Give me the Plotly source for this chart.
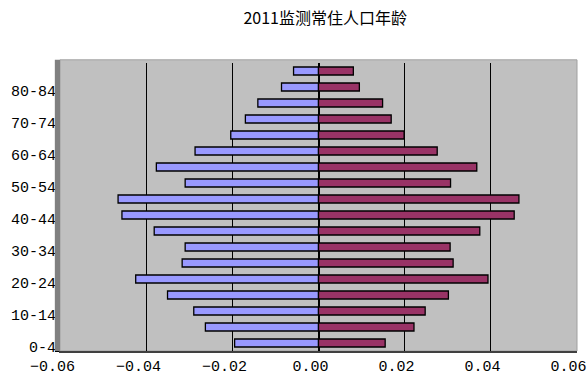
import plotly.graph_objects as go

# Age groups, bottom to top
age_groups = ["0-4", "5-9", "10-14", "15-19", "20-24", "25-29", "30-34", "35-39",
              "40-44", "45-49", "50-54", "55-59", "60-64", "65-69", "70-74",
              "75-79", "80-84", "85+"]

# Population shares by sex (male drawn to the left as negative values)
male_share = [0.0195, 0.0263, 0.0290, 0.0351, 0.0425, 0.0317, 0.0310, 0.0382,
              0.0457, 0.0466, 0.0310, 0.0377, 0.0287, 0.0204, 0.0170,
              0.0141, 0.0086, 0.0058]
female_share = [0.0155, 0.0222, 0.0248, 0.0302, 0.0394, 0.0313, 0.0306, 0.0375,
                0.0455, 0.0466, 0.0307, 0.0368, 0.0276, 0.0199, 0.0169,
                0.0149, 0.0095, 0.0081]

x_ticks = [-0.06, -0.04, -0.02, 0.0, 0.02, 0.04, 0.06]
y_tick_labels = age_groups[::2][:9]

fig = go.Figure()
fig.add_trace(go.Bar(
    y=age_groups, x=[-v for v in male_share], orientation="h", name="男",
    marker=dict(color="#9999FF", line=dict(color="#000000", width=1.3)),
    width=0.5,
))
fig.add_trace(go.Bar(
    y=age_groups, x=female_share, orientation="h", name="女",
    marker=dict(color="#993366", line=dict(color="#000000", width=1.3)),
    width=0.5,
))

tick_font = dict(family="Liberation Mono", size=15, color="#000000")

fig.update_layout(
    width=587, height=383,
    margin=dict(l=60, r=10, t=63, b=32),
    paper_bgcolor="#FFFFFF",
    plot_bgcolor="#C0C0C0",
    barmode="relative",
    showlegend=False,
    title=dict(text="2011监测常住人口年龄", x=0.554, xanchor="center", y=0.953, yanchor="middle",
               font=dict(family="Noto Sans CJK SC", size=16, color="#000000")),
    xaxis=dict(
        range=[-0.0601, 0.0601], tickvals=x_ticks, tickformat=".2f",
        showgrid=True, gridcolor="#000000", gridwidth=1,
        zeroline=True, zerolinecolor="#000000", zerolinewidth=1.5,
        showline=True, linecolor="#404040", linewidth=2,
        ticks="", tickfont=tick_font, automargin=False,
        ticklabelshift=-8, ticklabeloverflow="allow",
    ),
    yaxis=dict(
        type="category", categoryorder="array", categoryarray=age_groups,
        tickvals=y_tick_labels, ticktext=y_tick_labels,
        tickson="boundaries", ticks="outside", ticklen=4, tickcolor="#000000",
        showgrid=False, zeroline=False,
        showline=True, linecolor="#000000", linewidth=1,
        tickfont=tick_font, ticklabelshift=4, automargin=False,
    ),
    shapes=[
        # top strip of the back wall above the first bar band
        dict(type="rect", xref="paper", yref="paper", x0=0.0, x1=1.0, y0=1.0, y1=1.011,
             fillcolor="#C0C0C0", line=dict(width=0), layer="below"),
        # side wall and plot-area frame
        dict(type="rect", xref="paper", yref="paper", x0=-0.01, x1=0.0, y0=0.0, y1=1.011,
             fillcolor="#808080", line=dict(width=0), layer="above"),
        dict(type="rect", xref="paper", yref="paper", x0=0.0, x1=1.0, y0=0.0, y1=1.011,
             fillcolor="rgba(0,0,0,0)", line=dict(color="#A0A0A0", width=1), layer="below"),
    ],
)

fig.write_html("out.html")
